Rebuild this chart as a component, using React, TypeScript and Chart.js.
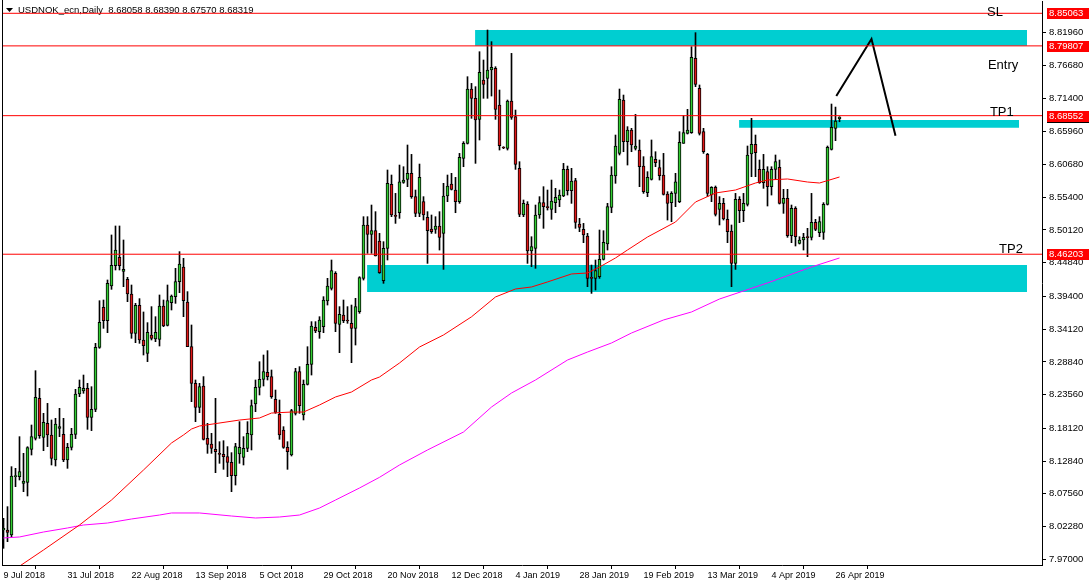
import React, { useEffect, useRef } from 'react';
import { Chart, registerables } from 'chart.js';

Chart.register(...registerables);

const titleText = 'USDNOK_ecn,Daily  8.68058 8.68390 8.67570 8.68319';

const dateLabels = ['9 Jul 2018', '31 Jul 2018', '22 Aug 2018', '13 Sep 2018', '5 Oct 2018', '29 Oct 2018', '20 Nov 2018', '12 Dec 2018', '4 Jan 2019', '28 Jan 2019', '19 Feb 2019', '13 Mar 2019', '4 Apr 2019', '26 Apr 2019'];
const dateTickIdx = [0, 16, 32, 48, 64, 80, 96, 112, 128, 144, 160, 176, 192, 208];

const yTicks = [7.97, 8.0228, 8.0756, 8.1284, 8.1812, 8.2356, 8.2884, 8.3412, 8.394, 8.4484, 8.5012, 8.554, 8.6068, 8.6596, 8.714, 8.7668, 8.8196];

const openP = [
  8.0172, 8.0172, 8.0092, 8.1033, 8.1033, 8.0925, 8.0941, 8.1473, 8.1651, 8.2296,
  8.1667, 8.1893, 8.1705, 8.1301, 8.1812, 8.1716, 8.1301, 8.1506, 8.1716, 8.2366,
  8.2414, 8.2457, 8.1990, 8.2119, 8.3119, 8.3764, 8.3549, 8.4108, 8.4436, 8.4570,
  8.4344, 8.4215, 8.3979, 8.3345, 8.3796, 8.3237, 8.3022, 8.3318, 8.3253, 8.3248,
  8.3785, 8.3474, 8.3839, 8.3936, 8.4178, 8.4414, 8.3850, 8.3129, 8.2538, 8.2151,
  8.2495, 8.1651, 8.1560, 8.1473, 8.1398, 8.1393, 8.1355, 8.1264, 8.1049, 8.1398,
  8.1344, 8.1490, 8.1705, 8.2205, 8.2473, 8.2603, 8.2715, 8.2646, 8.2280, 8.2038,
  8.1785, 8.1506, 8.1382, 8.2054, 8.2726, 8.2027, 8.2522, 8.2844, 8.3441, 8.3371,
  8.3452, 8.3866, 8.4070, 8.4312, 8.3490, 8.3640, 8.3560, 8.3506, 8.3425, 8.3694,
  8.4231, 8.5092, 8.4941, 8.5000, 8.4833, 8.4194, 8.4715, 8.5747, 8.5242, 8.5290,
  8.5780, 8.5828, 8.5925, 8.5549, 8.5280, 8.5468, 8.5215, 8.5027, 8.5022, 8.5075,
  8.4957, 8.5559, 8.5753, 8.5656, 8.5468, 8.6167, 8.6409, 8.7285, 8.7135, 8.6796,
  8.7430, 8.7457, 8.7592, 8.7618, 8.7027, 8.6339, 8.6328, 8.7092, 8.6839, 8.6006,
  8.5253, 8.5430, 8.4672, 8.4715, 8.5253, 8.5452, 8.5376, 8.5344, 8.5452, 8.5495,
  8.5559, 8.5989, 8.5645, 8.5807, 8.5108, 8.5022, 8.4914, 8.4247, 8.4231, 8.4258,
  8.4538, 8.4785, 8.5376, 8.5882, 8.6247, 8.7108, 8.6436, 8.6624, 8.6328, 8.6301,
  8.6043, 8.5613, 8.5828, 8.6151, 8.6016, 8.5898, 8.5592, 8.5452, 8.5602, 8.5468,
  8.6409, 8.6570, 8.6581, 8.7780, 8.7296, 8.6597, 8.6231, 8.5575, 8.5699, 8.5344,
  8.5441, 8.5183, 8.4995, 8.4473, 8.5506, 8.5323, 8.5425, 8.6237, 8.6393, 8.5989,
  8.5774, 8.5952, 8.5710, 8.5989, 8.6022, 8.5441, 8.5522, 8.4920, 8.5360, 8.4796,
  8.4850, 8.4893, 8.4893, 8.5135, 8.4968, 8.4973, 8.5425, 8.6312, 8.6651, 8.68058
];
const highP = [
  8.0361, 8.0549, 8.1194, 8.1167, 8.1678, 8.1409, 8.1516, 8.1866, 8.2742, 8.2457,
  8.2054, 8.2215, 8.1947, 8.1974, 8.2135, 8.1974, 8.1570, 8.1812, 8.2441, 8.2592,
  8.2672, 8.2538, 8.2484, 8.3183, 8.3871, 8.3882, 8.4205, 8.4931, 8.5076, 8.5076,
  8.4850, 8.4248, 8.4124, 8.3828, 8.3904, 8.3689, 8.3517, 8.3775, 8.3613, 8.3963,
  8.3882, 8.4124, 8.3963, 8.4393, 8.4662, 8.4554, 8.4017, 8.3479, 8.2592, 8.2538,
  8.2646, 8.1893, 8.1732, 8.2296, 8.1597, 8.1613, 8.1517, 8.1420, 8.1570, 8.1920,
  8.1678, 8.1920, 8.2269, 8.2592, 8.2887, 8.2995, 8.3065, 8.2753, 8.2430, 8.2269,
  8.1839, 8.1597, 8.2119, 8.2780, 8.2807, 8.2592, 8.3129, 8.3533, 8.3533, 8.3613,
  8.3936, 8.4232, 8.4527, 8.4339, 8.3775, 8.3882, 8.3775, 8.3801, 8.3909, 8.4258,
  8.5226, 8.5226, 8.5414, 8.5307, 8.4957, 8.4823, 8.5979, 8.5898, 8.5602, 8.6059,
  8.6032, 8.6382, 8.6231, 8.5656, 8.6075, 8.5549, 8.5307, 8.5253, 8.5226, 8.5307,
  8.5764, 8.5898, 8.5925, 8.5860, 8.6247, 8.6436, 8.7484, 8.7376, 8.7323, 8.7887,
  8.7753, 8.8237, 8.8049, 8.7645, 8.7269, 8.6355, 8.7108, 8.7860, 8.6946, 8.6113,
  8.5495, 8.5468, 8.4903, 8.5414, 8.5549, 8.5710, 8.5656, 8.5817, 8.5683, 8.5656,
  8.6086, 8.6043, 8.6006, 8.5845, 8.5199, 8.5118, 8.4957, 8.4446, 8.4527, 8.5011,
  8.5000, 8.5441, 8.6032, 8.6543, 8.7285, 8.7188, 8.6678, 8.6651, 8.6876, 8.6463,
  8.6194, 8.5952, 8.6463, 8.6274, 8.6140, 8.6247, 8.5629, 8.5629, 8.5925, 8.6597,
  8.6855, 8.6957, 8.7968, 8.8194, 8.7350, 8.6651, 8.6247, 8.5710, 8.5721, 8.5549,
  8.5522, 8.5334, 8.5092, 8.5602, 8.5549, 8.5602, 8.6366, 8.6812, 8.6543, 8.6140,
  8.6231, 8.6032, 8.6032, 8.6221, 8.6140, 8.5667, 8.5667, 8.5414, 8.5387, 8.4903,
  8.4957, 8.5038, 8.5602, 8.5183, 8.5226, 8.5452, 8.6366, 8.7043, 8.6994, 8.68390
];
const lowP = [
  7.9877, 7.9984, 8.0065, 8.0871, 8.0979, 8.0791, 8.0721, 8.1382, 8.1624, 8.1651,
  8.1452, 8.1517, 8.1221, 8.1205, 8.1678, 8.1275, 8.1167, 8.1463, 8.1646, 8.2323,
  8.2377, 8.1796, 8.1775, 8.2081, 8.3103, 8.3425, 8.3355, 8.4054, 8.4366, 8.4366,
  8.4097, 8.3855, 8.3264, 8.3194, 8.3183, 8.2995, 8.2888, 8.3237, 8.3210, 8.3140,
  8.3452, 8.3463, 8.3721, 8.3828, 8.4000, 8.3613, 8.3129, 8.2242, 8.1920, 8.2065,
  8.1624, 8.1409, 8.1409, 8.1097, 8.1248, 8.1151, 8.1033, 8.0791, 8.0898, 8.1248,
  8.1221, 8.1436, 8.1463, 8.2081, 8.2350, 8.2495, 8.2592, 8.2296, 8.2054, 8.1635,
  8.1490, 8.1151, 8.1366, 8.2027, 8.2054, 8.1947, 8.2511, 8.2672, 8.3355, 8.3264,
  8.3355, 8.3801, 8.4043, 8.3371, 8.3033, 8.3517, 8.3506, 8.2871, 8.3156, 8.3667,
  8.4204, 8.4635, 8.4635, 8.4592, 8.4312, 8.4151, 8.4527, 8.5226, 8.5118, 8.5199,
  8.5764, 8.5710, 8.5522, 8.5226, 8.5226, 8.5172, 8.4473, 8.4957, 8.4957, 8.4688,
  8.4376, 8.5468, 8.5656, 8.5290, 8.5441, 8.6032, 8.6398, 8.6812, 8.6086, 8.6463,
  8.7135, 8.7135, 8.7172, 8.6796, 8.6301, 8.6323, 8.6301, 8.6796, 8.5989, 8.5226,
  8.5226, 8.4473, 8.4420, 8.4393, 8.5199, 8.5038, 8.5333, 8.5183, 8.5290, 8.5387,
  8.5549, 8.5575, 8.5441, 8.5038, 8.4984, 8.4807, 8.4097, 8.3989, 8.4043, 8.4231,
  8.4527, 8.4688, 8.5290, 8.5764, 8.6221, 8.6274, 8.6059, 8.6274, 8.6301, 8.5710,
  8.5602, 8.5549, 8.5817, 8.6032, 8.5817, 8.5575, 8.5172, 8.5145, 8.5387, 8.5452,
  8.6409, 8.6559, 8.6570, 8.7323, 8.6543, 8.6247, 8.5549, 8.5468, 8.5237, 8.5092,
  8.5172, 8.4807, 8.4097, 8.4376, 8.5129, 8.5145, 8.5398, 8.5871, 8.5871, 8.5764,
  8.5683, 8.5398, 8.5575, 8.5828, 8.5430, 8.5280, 8.4893, 8.4807, 8.4753, 8.4785,
  8.4688, 8.4581, 8.4850, 8.5000, 8.4903, 8.4860, 8.5414, 8.6301, 8.6452, 8.67570
];
const closeP = [
  8.0199, 8.0135, 8.1043, 8.1043, 8.1113, 8.0963, 8.1500, 8.1678, 8.2312, 8.1694,
  8.1909, 8.1705, 8.1328, 8.1882, 8.1839, 8.1301, 8.1506, 8.1716, 8.2366, 8.2474,
  8.2457, 8.1990, 8.2119, 8.3119, 8.3522, 8.3549, 8.4151, 8.4441, 8.4689, 8.4436,
  8.4377, 8.3979, 8.3345, 8.3796, 8.3237, 8.3146, 8.3361, 8.3264, 8.3361, 8.3785,
  8.3463, 8.3871, 8.3947, 8.4178, 8.4463, 8.3871, 8.3129, 8.2538, 8.2151, 8.2484,
  8.1635, 8.1554, 8.1490, 8.1436, 8.1393, 8.1355, 8.1264, 8.1049, 8.1517, 8.1506,
  8.1490, 8.1732, 8.2178, 8.2473, 8.2603, 8.2726, 8.2646, 8.2323, 8.2070, 8.1705,
  8.1506, 8.1436, 8.2097, 8.2726, 8.2178, 8.2522, 8.2844, 8.3463, 8.3382, 8.3560,
  8.3882, 8.4108, 8.4355, 8.3506, 8.3651, 8.3549, 8.3543, 8.3425, 8.3775, 8.4242,
  8.5092, 8.4941, 8.5000, 8.4592, 8.4323, 8.4715, 8.5764, 8.5253, 8.5231, 8.5790,
  8.5817, 8.5925, 8.5549, 8.5280, 8.5860, 8.5253, 8.5000, 8.4984, 8.5075, 8.4893,
  8.5559, 8.5721, 8.5667, 8.5468, 8.6183, 8.6409, 8.7285, 8.7135, 8.6785, 8.7554,
  8.7360, 8.7592, 8.7635, 8.6957, 8.6371, 8.6333, 8.7092, 8.6828, 8.6070, 8.5264,
  8.5441, 8.4672, 8.4742, 8.5253, 8.5452, 8.5387, 8.5371, 8.5479, 8.5538, 8.5575,
  8.5989, 8.5645, 8.5801, 8.5135, 8.5054, 8.4930, 8.4231, 8.4231, 8.4355, 8.4538,
  8.4812, 8.5387, 8.5898, 8.6366, 8.7118, 8.6436, 8.6624, 8.6382, 8.6366, 8.6032,
  8.5629, 8.5860, 8.6194, 8.6097, 8.5887, 8.5586, 8.5441, 8.5602, 8.5790, 8.6425,
  8.6581, 8.6624, 8.7796, 8.7360, 8.6570, 8.6274, 8.5602, 8.5699, 8.5264, 8.5441,
  8.5188, 8.4984, 8.4473, 8.5506, 8.5323, 8.5441, 8.6221, 8.6393, 8.6258, 8.5774,
  8.5989, 8.5710, 8.5989, 8.6113, 8.5441, 8.5522, 8.4920, 8.5360, 8.4903, 8.4850,
  8.4893, 8.4887, 8.5135, 8.5022, 8.5145, 8.5425, 8.6344, 8.6667, 8.6769, 8.68319
];

const maRedIdx = [0, 10, 19, 27, 35, 42, 45, 47, 49, 59, 64, 67, 72, 75, 79, 83, 87, 92, 94, 99, 104, 110, 117, 123, 128, 132, 136, 142, 146, 149, 153, 156, 161, 168, 173, 178, 183, 188, 191, 196, 201, 204, 209];
const maRedVal = [7.9415, 7.9850, 8.0253, 8.0656, 8.1140, 8.1576, 8.1705, 8.1801, 8.1850, 8.1946, 8.1979, 8.2059, 8.2075, 8.2075, 8.2189, 8.2318, 8.2398, 8.2592, 8.2640, 8.2866, 8.3124, 8.3318, 8.3611, 8.3931, 8.4060, 8.4092, 8.4173, 8.4302, 8.4318, 8.4414, 8.4560, 8.4689, 8.4898, 8.5140, 8.5463, 8.5608, 8.5656, 8.5769, 8.5818, 8.5834, 8.5785, 8.5769, 8.5866];

const maPinkIdx = [0, 4, 10, 16, 20, 26, 32, 39, 42, 49, 57, 63, 69, 74, 79, 83, 89, 94, 99, 106, 115, 122, 127, 133, 141, 146, 152, 157, 165, 172, 179, 191, 202, 209];
const maPinkVal = [8.0044, 8.0060, 8.0140, 8.0205, 8.0253, 8.0285, 8.0350, 8.0414, 8.0447, 8.0447, 8.0398, 8.0366, 8.0382, 8.0414, 8.0527, 8.0656, 8.0850, 8.1022, 8.1221, 8.1463, 8.1753, 8.2156, 8.2382, 8.2592, 8.2914, 8.3043, 8.3189, 8.3350, 8.3560, 8.3689, 8.3898, 8.4157, 8.4415, 8.4560];

const levelValues = [8.85063, 8.79807, 8.68552, 8.46203];
const lastPrice = 8.68319;

const boxFrom = [117.9, 183.9, 90.9];
const boxTo = [255.9, 253.9, 255.9];
const boxTop = [8.8237, 8.6785, 8.4447];
const boxBottom = [8.7981, 8.6661, 8.4011];

const arrowIdx = [208.2, 217, 223];
const arrowVal = [8.7172, 8.8092, 8.6532];

const noteText = ['SL', 'Entry', 'TP1', 'TP2'];
const noteIdx = [245.9, 246.1, 246.6, 248.9];
const noteVal = [8.8519, 8.7672, 8.6914, 8.4705];

const X_MIN = -0.375;
const X_MAX = 259.625;
const Y_MAX = 8.87047;
const Y_MIN = 7.96079;

const GREEN = '#32CD32';
const RED = '#E01818';
const CYAN = '#00CED1';
const FONT = '"Liberation Sans", Arial, sans-serif';

export default function App() {
  const ref = useRef<HTMLCanvasElement | null>(null);

  useEffect(() => {
    document.body.style.margin = '0';
    const canvas = ref.current;
    if (!canvas) return;

    const bodyData = openP.map((o, i) => ({ x: i, y: [o, closeP[i]] }));
    const wickData = openP.map((_, i) => ({ x: i, y: [lowP[i], highP[i]] }));
    const bodyColors = openP.map((o, i) => (closeP[i] >= o ? GREEN : RED));

    const datasets: any[] = [];
    datasets.push({
      type: 'bar', data: bodyData, backgroundColor: bodyColors, borderColor: '#000', borderWidth: 1,
      borderSkipped: false, barThickness: 3, grouped: false, minBarLength: 1, order: 2,
    });
    datasets.push({
      type: 'bar', data: wickData, backgroundColor: '#000', borderWidth: 0,
      barThickness: 1, grouped: false, order: 3,
    });
    datasets.push({
      type: 'line', data: maRedIdx.map((x, i) => ({ x, y: maRedVal[i] })), borderColor: '#ff0000',
      borderWidth: 1, pointRadius: 0, tension: 0, fill: false, order: 1,
    });
    datasets.push({
      type: 'line', data: maPinkIdx.map((x, i) => ({ x, y: maPinkVal[i] })), borderColor: '#ff00ff',
      borderWidth: 1, pointRadius: 0, tension: 0, fill: false, order: 1,
    });
    levelValues.forEach((v) => {
      datasets.push({
        type: 'line', data: [{ x: X_MIN, y: v }, { x: X_MAX, y: v }], borderColor: '#ff0000',
        borderWidth: 1, pointRadius: 0, fill: false, order: 0,
      });
    });
    datasets.push({
      type: 'line', data: arrowIdx.map((x, i) => ({ x, y: arrowVal[i] })), borderColor: '#000',
      borderWidth: 2, pointRadius: 0, tension: 0, fill: false, order: 0,
    });
    boxTop.forEach((t, k) => {
      datasets.push({
        type: 'line', data: [{ x: boxFrom[k], y: t }, { x: boxTo[k], y: t }], borderWidth: 0,
        borderColor: 'rgba(0,0,0,0)', backgroundColor: CYAN, pointRadius: 0, fill: '+1', order: 10,
      });
      datasets.push({
        type: 'line', data: [{ x: boxFrom[k], y: boxBottom[k] }, { x: boxTo[k], y: boxBottom[k] }], borderWidth: 0,
        borderColor: 'rgba(0,0,0,0)', pointRadius: 0, fill: false, order: 10,
      });
    });

    const overlay = {
      id: 'overlay',
      beforeDatasetsDraw(chart: any) {
        const ctx = chart.ctx;
        ctx.save();
        ctx.fillStyle = '#000';
        ctx.beginPath();
        ctx.moveTo(6, 8);
        ctx.lineTo(13, 8);
        ctx.lineTo(9.5, 12);
        ctx.closePath();
        ctx.fill();
        ctx.font = '9.5px ' + FONT;
        ctx.textBaseline = 'middle';
        ctx.textAlign = 'left';
        ctx.fillText(titleText, 18, 10.5);
        ctx.restore();
      },
      afterDraw(chart: any) {
        const { ctx, chartArea: a, scales } = chart;
        const xs = scales.x;
        const ys = scales.y;
        ctx.save();
        ctx.fillStyle = '#000';
        ctx.fillRect(a.left, 0, 1, a.bottom);
        ctx.textBaseline = 'middle';
        ctx.textAlign = 'left';
        ctx.font = '13px ' + FONT;
        noteText.forEach((t, i) => {
          ctx.fillText(t, xs.getPixelForValue(noteIdx[i]), ys.getPixelForValue(noteVal[i]));
        });
        const bx = a.right + 5;
        ctx.font = '9.5px ' + FONT;
        const cp = ys.getPixelForValue(lastPrice);
        ctx.fillStyle = '#000';
        ctx.fillRect(bx, Math.round(cp) - 5, 42, 11);
        ctx.fillStyle = '#fff';
        ctx.fillText(lastPrice.toFixed(5), bx + 2, cp + 0.5);
        levelValues.forEach((v) => {
          const p = ys.getPixelForValue(v);
          ctx.fillStyle = '#ff0000';
          ctx.fillRect(bx, Math.round(p) - 5, 42, 11);
          ctx.fillStyle = '#fff';
          ctx.fillText(v.toFixed(5), bx + 2, Math.round(p) + 0.5);
        });
        ctx.restore();
      },
    };

    const chart = new Chart(canvas, {
      type: 'bar',
      data: { datasets },
      options: {
        animation: false,
        responsive: false,
        events: [],
        layout: { padding: { left: 2, top: 1, right: 0, bottom: 0 } },
        plugins: { legend: { display: false }, tooltip: { enabled: false } },
        scales: {
          x: {
            type: 'linear', min: X_MIN, max: X_MAX, offset: false,
            afterBuildTicks: (s: any) => { s.ticks = dateTickIdx.map((v) => ({ value: v })); },
            afterFit: (s: any) => { s.height = 19; s.paddingLeft = 0; s.paddingRight = 0; },
            ticks: {
              callback: (_v: any, idx: number) => dateLabels[idx],
              align: 'start', autoSkip: false, maxRotation: 0, minRotation: 0, padding: 1,
              color: '#000', font: { family: FONT, size: 9 },
            },
            grid: { drawOnChartArea: false, drawTicks: true, tickLength: 4, color: '#000' },
            border: { display: true, color: '#000', width: 1 },
          },
          y: {
            type: 'linear', position: 'right', min: Y_MIN, max: Y_MAX,
            afterBuildTicks: (s: any) => { s.ticks = yTicks.map((v) => ({ value: v })); },
            afterFit: (s: any) => { s.width = 50; s.paddingTop = 0; s.paddingBottom = 0; },
            ticks: {
              callback: (v: any) => Number(v).toFixed(5), autoSkip: false, padding: 3,
              color: '#000', font: { family: FONT, size: 9.5 },
            },
            grid: { drawOnChartArea: false, drawTicks: true, tickLength: 4, color: '#000' },
            border: { display: true, color: '#000', width: 1 },
          },
        },
      } as any,
      plugins: [overlay],
    });

    return () => chart.destroy();
  }, []);

  return (
    <div style={{ width: 1092, height: 584, background: '#fff' }}>
      <canvas ref={ref} width={1092} height={584} style={{ display: 'block' }} />
    </div>
  );
}
